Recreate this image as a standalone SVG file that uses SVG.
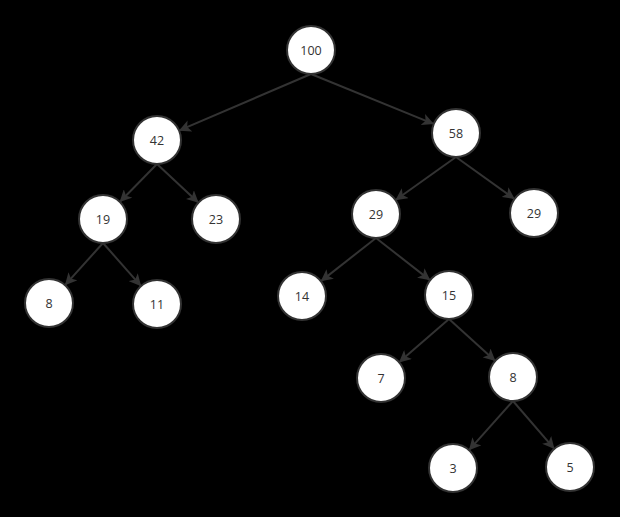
<svg xmlns="http://www.w3.org/2000/svg" width="620" height="517" viewBox="0 0 620 517">
<style>
.n circle{fill:#ffffff;stroke:#333333;stroke-width:2}
.n text{font-family:"Open Sans","Noto Sans",sans-serif;font-size:12.5px;fill:#333333;text-anchor:middle;dominant-baseline:central}
.e line{stroke:#333333;stroke-width:2;marker-end:url(#arr)}
</style>
<defs>
<marker id="arr" viewBox="0 0 10 10" refX="9" refY="5" markerWidth="6" markerHeight="6" markerUnits="strokeWidth" orient="auto">
<path d="M0,0 L10,5 L0,10 L2.5,5 Z" fill="#333333"/>
</marker>
</defs>
<rect x="0" y="0" width="620" height="517" fill="#000000"/>
<g id="edges" class="e">
<line x1="311" y1="74" x2="180" y2="130.2"/>
<line x1="311" y1="74" x2="432.8" y2="123.6"/>
<line x1="157" y1="164" x2="120.5" y2="201.2"/>
<line x1="157" y1="164" x2="197.7" y2="202"/>
<line x1="103" y1="243" x2="65.7" y2="284.4"/>
<line x1="103" y1="243" x2="140.4" y2="285.3"/>
<line x1="456" y1="157" x2="396.4" y2="199.5"/>
<line x1="456" y1="157" x2="513.7" y2="198.4"/>
<line x1="376" y1="238" x2="321.7" y2="280.6"/>
<line x1="376" y1="238" x2="429.3" y2="279.6"/>
<line x1="449" y1="319" x2="399.9" y2="361.6"/>
<line x1="449" y1="319" x2="494.5" y2="360.2"/>
<line x1="513" y1="401" x2="469.7" y2="449.4"/>
<line x1="513" y1="401" x2="553.7" y2="448.1"/>
</g>
<g id="n100" class="n"><circle cx="311" cy="50" r="24"/><text x="311" y="50">100</text></g>
<g id="n42" class="n"><circle cx="157" cy="140" r="24"/><text x="157" y="140">42</text></g>
<g id="n58" class="n"><circle cx="456" cy="133" r="24"/><text x="456" y="133">58</text></g>
<g id="n19" class="n"><circle cx="103" cy="219" r="24"/><text x="103" y="219">19</text></g>
<g id="n23" class="n"><circle cx="216" cy="219" r="24"/><text x="216" y="219">23</text></g>
<g id="n8a" class="n"><circle cx="49" cy="303" r="24"/><text x="49" y="303">8</text></g>
<g id="n11" class="n"><circle cx="157" cy="304" r="24"/><text x="157" y="304">11</text></g>
<g id="n29a" class="n"><circle cx="376" cy="214" r="24"/><text x="376" y="214">29</text></g>
<g id="n29b" class="n"><circle cx="534" cy="213" r="24"/><text x="534" y="213">29</text></g>
<g id="n14" class="n"><circle cx="302" cy="296" r="24"/><text x="302" y="296">14</text></g>
<g id="n15" class="n"><circle cx="449" cy="295" r="24"/><text x="449" y="295">15</text></g>
<g id="n7" class="n"><circle cx="381" cy="378" r="24"/><text x="381" y="378">7</text></g>
<g id="n8b" class="n"><circle cx="513" cy="377" r="24"/><text x="513" y="377">8</text></g>
<g id="n3" class="n"><circle cx="453" cy="468" r="24"/><text x="453" y="468">3</text></g>
<g id="n5" class="n"><circle cx="570" cy="467" r="24"/><text x="570" y="467">5</text></g>
</svg>
